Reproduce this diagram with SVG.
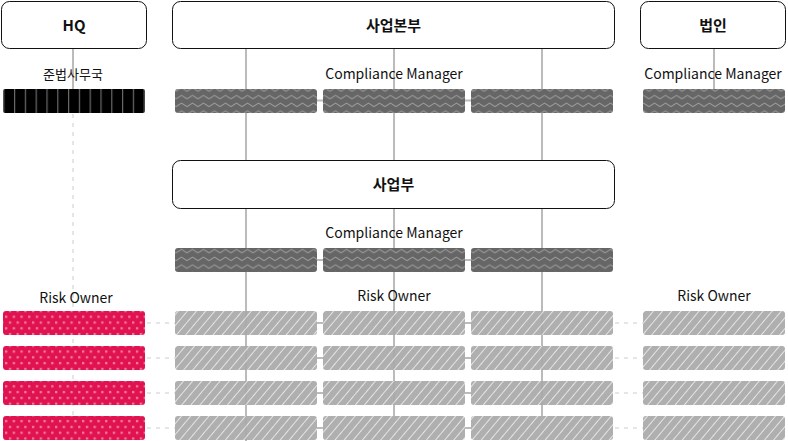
<svg xmlns="http://www.w3.org/2000/svg" width="788" height="441" viewBox="0 0 788 441">
<style>
.box{fill:#fff;stroke:#111;stroke-width:1}
.bt{font-family:"Noto Sans CJK KR","Noto Sans",sans-serif;font-size:15px;font-weight:bold;fill:#111;text-anchor:middle}
.lb{font-family:"Noto Sans CJK KR","Noto Sans",sans-serif;font-size:14px;fill:#111;text-anchor:middle}
.ln{stroke:#bbb;stroke-width:2;fill:none}
.dl{stroke:#ccc;stroke-width:1;stroke-dasharray:4 5;fill:none}
.blk{fill:url(#stripes)}
.cm{fill:url(#zig)}
.ro{fill:url(#dots)}
.hat{fill:url(#hatch)}
</style>
<defs>
<pattern id="stripes" patternUnits="userSpaceOnUse" x="3.2" y="0" width="10.8" height="20">
<rect width="10.8" height="20" fill="#000"/>
<rect x="0" y="0" width="1.2" height="20" fill="#6a6a6a"/>
</pattern>
<pattern id="zig" patternUnits="userSpaceOnUse" x="0" y="1" width="11" height="7.7">
<rect width="11" height="7.7" fill="#666"/>
<path d="M0 5.5 L5.5 2 L11 5.5" stroke="#9a9a9a" stroke-width="1" fill="none"/>
</pattern>
<pattern id="dots" patternUnits="userSpaceOnUse" x="5" y="1.5" width="7.7" height="11.6">
<rect width="7.7" height="11.6" fill="#e0124f"/>
<rect x="0" y="0.9" width="2.3" height="2.3" fill="#f27aa0"/>
<rect x="3.85" y="6.7" width="2.3" height="2.3" fill="#f27aa0"/>
</pattern>
<pattern id="hatch" patternUnits="userSpaceOnUse" width="7" height="7" patternTransform="rotate(40)">
<rect width="7" height="7" fill="#a9a9a9"/>
<line x1="0.5" y1="0" x2="0.5" y2="7" stroke="#fff" stroke-width="0.8" stroke-opacity="0.85"/>
</pattern>
</defs>

<g id="connectors">
<line class="ln" x1="73" y1="48" x2="73" y2="89"/>
<line class="dl" x1="73" y1="114" x2="73" y2="416"/>
<line class="ln" x1="246" y1="48" x2="246" y2="160"/>
<line class="ln" x1="394" y1="48" x2="394" y2="160"/>
<line class="ln" x1="542" y1="48" x2="542" y2="160"/>
<line class="ln" x1="246" y1="209" x2="246" y2="441"/>
<line class="ln" x1="394" y1="209" x2="394" y2="416"/>
<line class="ln" x1="542" y1="209" x2="542" y2="416"/>
<line class="ln" x1="714" y1="48" x2="714" y2="89"/>
<line class="ln" x1="317" y1="100.5" x2="323" y2="100.5"/>
<line class="ln" x1="465" y1="100.5" x2="471" y2="100.5"/>
<line class="ln" x1="317" y1="260" x2="323" y2="260"/>
<line class="ln" x1="465" y1="260" x2="471" y2="260"/>
<line class="ln" x1="317" y1="323" x2="323" y2="323"/>
<line class="ln" x1="465" y1="323" x2="471" y2="323"/>
<line class="ln" x1="317" y1="358" x2="323" y2="358"/>
<line class="ln" x1="465" y1="358" x2="471" y2="358"/>
<line class="ln" x1="317" y1="393" x2="323" y2="393"/>
<line class="ln" x1="465" y1="393" x2="471" y2="393"/>
<line class="ln" x1="317" y1="428" x2="323" y2="428"/>
<line class="ln" x1="465" y1="428" x2="471" y2="428"/>
<line class="dl" x1="147" y1="323" x2="175" y2="323"/>
<line class="dl" x1="147" y1="358" x2="175" y2="358"/>
<line class="dl" x1="147" y1="393" x2="175" y2="393"/>
<line class="dl" x1="147" y1="428" x2="175" y2="428"/>
<line class="dl" x1="615" y1="323" x2="643" y2="323"/>
<line class="dl" x1="615" y1="358" x2="643" y2="358"/>
<line class="dl" x1="615" y1="393" x2="643" y2="393"/>
<line class="dl" x1="615" y1="428" x2="643" y2="428"/>
</g>

<g id="hq">
<rect class="box" x="1.5" y="1.5" width="145" height="47" rx="8"/>
<text class="bt" x="74" y="30.5">HQ</text>
</g>
<g id="saupbonbu">
<rect class="box" x="172.5" y="1.5" width="442" height="47" rx="8"/>
<text class="bt" x="393.5" y="30.5">사업본부</text>
</g>
<g id="bubin">
<rect class="box" x="640.5" y="1.5" width="145" height="47" rx="8"/>
<text class="bt" x="713" y="30.5">법인</text>
</g>
<g id="saupbu">
<rect class="box" x="172.5" y="160.5" width="442" height="48" rx="8"/>
<text class="bt" x="393.5" y="190">사업부</text>
</g>

<g id="labels">
<text class="lb" x="73" y="79" style="font-size:13px">준법사무국</text>
<text class="lb" x="394" y="79">Compliance Manager</text>
<text class="lb" x="713" y="79">Compliance Manager</text>
<text class="lb" x="394" y="238">Compliance Manager</text>
<text class="lb" x="76" y="303">Risk Owner</text>
<text class="lb" x="394" y="301">Risk Owner</text>
<text class="lb" x="714" y="301">Risk Owner</text>
</g>

<g id="compliance-office">
<rect class="blk" x="3" y="89" width="142" height="24" rx="2"/>
</g>
<g id="cm-bonbu">
<rect class="cm" x="175" y="89" width="142" height="24" rx="3"/>
<rect class="cm" x="323" y="89" width="142" height="24" rx="3"/>
<rect class="cm" x="471" y="89" width="142" height="24" rx="3"/>
<rect class="cm" x="643" y="89" width="142" height="24" rx="3"/>
</g>
<g id="cm-saupbu">
<rect class="cm" x="175" y="248" width="142" height="24" rx="3"/>
<rect class="cm" x="323" y="248" width="142" height="24" rx="3"/>
<rect class="cm" x="471" y="248" width="142" height="24" rx="3"/>
</g>
<g id="ro-hq">
<rect class="ro" x="3" y="311" width="142" height="24" rx="3"/>
<rect class="ro" x="3" y="346" width="142" height="24" rx="3"/>
<rect class="ro" x="3" y="381" width="142" height="24" rx="3"/>
<rect class="ro" x="3" y="416" width="142" height="24" rx="3"/>
</g>
<g id="ro-saupbu" opacity="0.93">
<rect class="hat" x="175" y="311" width="142" height="24" rx="3"/>
<rect class="hat" x="323" y="311" width="142" height="24" rx="3"/>
<rect class="hat" x="471" y="311" width="142" height="24" rx="3"/>
<rect class="hat" x="175" y="346" width="142" height="24" rx="3"/>
<rect class="hat" x="323" y="346" width="142" height="24" rx="3"/>
<rect class="hat" x="471" y="346" width="142" height="24" rx="3"/>
<rect class="hat" x="175" y="381" width="142" height="24" rx="3"/>
<rect class="hat" x="323" y="381" width="142" height="24" rx="3"/>
<rect class="hat" x="471" y="381" width="142" height="24" rx="3"/>
<rect class="hat" x="175" y="416" width="142" height="24" rx="3"/>
<rect class="hat" x="323" y="416" width="142" height="24" rx="3"/>
<rect class="hat" x="471" y="416" width="142" height="24" rx="3"/>
</g>
<g id="ro-bubin" opacity="0.93">
<rect class="hat" x="643" y="311" width="142" height="24" rx="3"/>
<rect class="hat" x="643" y="346" width="142" height="24" rx="3"/>
<rect class="hat" x="643" y="381" width="142" height="24" rx="3"/>
<rect class="hat" x="643" y="416" width="142" height="24" rx="3"/>
</g>
</svg>
